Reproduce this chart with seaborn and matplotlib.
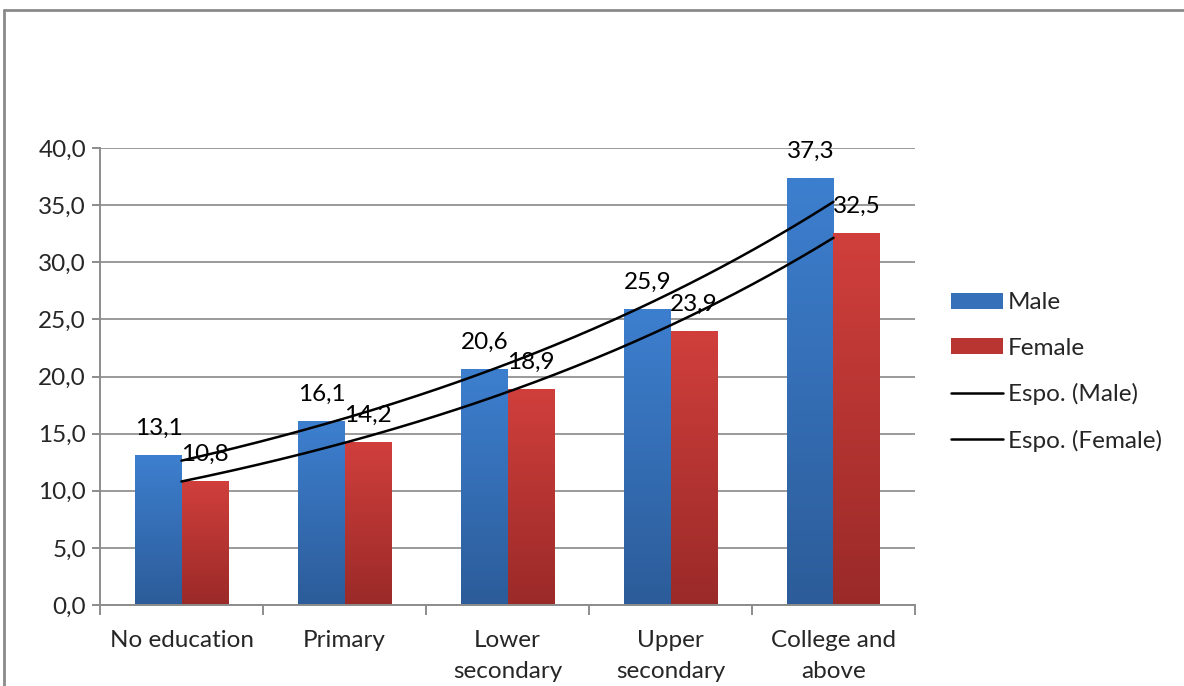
import numpy as np
import pandas as pd
import matplotlib
matplotlib.use("Agg")
import matplotlib.pyplot as plt
import seaborn as sns
from matplotlib.lines import Line2D
from matplotlib.patches import Patch
from matplotlib.colors import LinearSegmentedColormap

categories = ["No education", "Primary", "Lower\nsecondary", "Upper\nsecondary", "College and\nabove"]
male = [13.1, 16.1, 20.6, 25.9, 37.3]
female = [10.8, 14.2, 18.9, 23.9, 32.5]
series_names = ["Male", "Female"]
trend_names = ["Espo. (Male)", "Espo. (Female)"]
y_ticks = [0, 5, 10, 15, 20, 25, 30, 35, 40]

sns.set_theme(style="white")
plt.rcParams["font.family"] = ["Lato", "DejaVu Sans"]
FS = 17.5
plt.rcParams["font.size"] = FS

df = pd.DataFrame({
    "cat": categories * 2,
    "val": male + female,
    "sex": [series_names[0]] * 5 + [series_names[1]] * 5,
})

blue_top, blue_bot = "#3d7fcf", "#2c5c99"
red_top, red_bot = "#d03f3c", "#9a2a28"

fig = plt.figure(figsize=(11.84, 6.86), dpi=100)
ax = fig.add_axes([100 / 1184, 1 - 605 / 686, 815 / 1184, 457 / 686])

sns.barplot(data=df, x="cat", y="val", hue="sex", palette=[blue_top, red_top],
            width=0.566, gap=0, ax=ax, legend=False, saturation=1)

# gradient fill on bars
cmaps = {
    0: LinearSegmentedColormap.from_list("b", [blue_bot, blue_top]),
    1: LinearSegmentedColormap.from_list("r", [red_bot, red_top]),
}
grad = np.linspace(0, 1, 256).reshape(-1, 1)
for i, cont in enumerate(ax.containers):
    for p in cont:
        x0, y0 = p.get_x(), p.get_y()
        w, h = p.get_width(), p.get_height()
        ax.imshow(grad, extent=[x0, x0 + w, y0, y0 + h], origin="lower",
                  cmap=cmaps[i], aspect="auto", zorder=2)
        p.set_alpha(0)

for cont, vals in zip(ax.containers, [male, female]):
    ax.bar_label(cont, labels=[f"{v:.1f}".replace(".", ",") for v in vals],
                 padding=12, fontsize=FS, color="black")

# exponential trendlines (fit on x = 1..5, as in Excel)
xs = np.arange(1, 6)
xfine = np.linspace(1, 5, 200)
for vals in [male, female]:
    b, lna = np.polyfit(xs, np.log(vals), 1)
    yfit = np.exp(lna + b * xfine)
    ax.plot(xfine - 1, yfit, color="black", lw=1.8, zorder=4)

ax.set_xlim(-0.5, 4.5)
ax.set_ylim(0, 40)
ax.set_yticks(y_ticks)
ax.set_yticklabels([f"{v:.1f}".replace(".", ",") for v in y_ticks])
ax.set_xlabel("")
ax.set_ylabel("")
ax.grid(axis="y", color="#9a9a9a", lw=1.4, zorder=0)
ax.set_axisbelow(True)
for s in ["top", "right"]:
    ax.spines[s].set_visible(False)
for s in ["left", "bottom"]:
    ax.spines[s].set_color("#8c8c8c")
    ax.spines[s].set_linewidth(1.4)
ax.tick_params(axis="y", which="major", direction="out", length=6, color="#8c8c8c",
               width=1.4, left=True, labelsize=FS, pad=4)
ax.tick_params(axis="x", which="major", length=0, labelsize=FS, pad=18)
ax.set_xticks(np.arange(-0.5, 5, 1), minor=True)
ax.tick_params(axis="x", which="minor", direction="out", length=7, color="#8c8c8c",
               width=1.4, bottom=True)
for lab in ax.get_xticklabels():
    lab.set_linespacing(1.6)

handles = [
    Patch(facecolor="#3570b8", edgecolor="none"),
    Patch(facecolor="#b93532", edgecolor="none"),
    Line2D([0], [0], color="black", lw=1.8),
    Line2D([0], [0], color="black", lw=1.8),
]
fig.legend(handles, series_names + trend_names, loc="center left",
           bbox_to_anchor=(929 / 1184, 1 - 372 / 686), frameon=False,
           fontsize=FS, handlelength=2.15, handleheight=0.65, labelspacing=1.0,
           handletextpad=0.2)

# outer chart border
fig.add_artist(Line2D([4 / 1184, 4 / 1184], [0, 1 - 10 / 686], color="#8a8a8a", lw=2,
                      transform=fig.transFigure))
fig.add_artist(Line2D([4 / 1184, 1], [1 - 10 / 686, 1 - 10 / 686], color="#8a8a8a", lw=2,
                      transform=fig.transFigure))

fig.savefig("out.png", dpi=100)
